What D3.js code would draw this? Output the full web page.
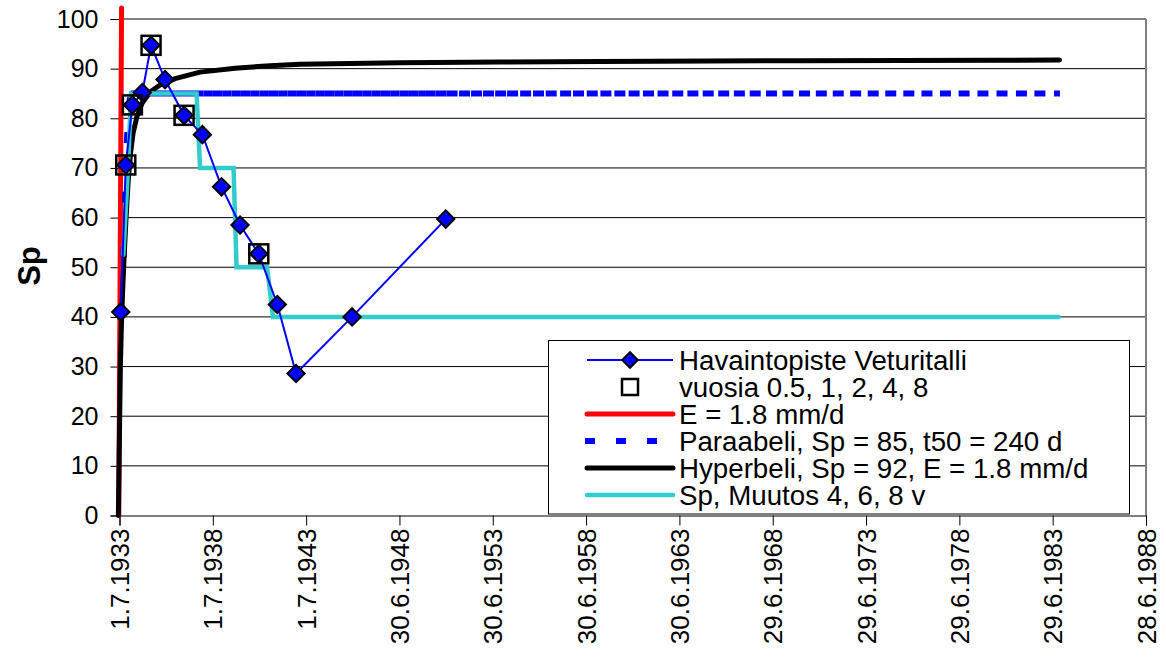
<!DOCTYPE html>
<html><head><meta charset="utf-8">
<script src="https://cdn.jsdelivr.net/npm/d3@7"></script>
<style>
body{margin:0;background:#fff}
text{font-family:Arial,"Liberation Sans",sans-serif;fill:#000}
</style>
</head><body>
<svg id="c" width="1166" height="659"></svg>
<script>
// ---------- data ----------
const xTickLabels = ["1.7.1933","1.7.1938","1.7.1943","30.6.1948","30.6.1953","30.6.1958","30.6.1963","29.6.1968","29.6.1973","29.6.1978","29.6.1983","28.6.1988"];
const yTicks = [0,10,20,30,40,50,60,70,80,90,100];

// Havaintopiste Veturitalli (decimal years, Sp)
const obsYears  = [1933.564,1933.832,1934.186,1934.721,1935.187,1935.937,1936.955,1937.936,1938.964,1939.955,1940.957,1941.953,1942.955,1945.955,1950.975];
const obsValues = [41.0,70.6,82.7,85.2,94.7,87.8,80.6,76.7,66.2,58.5,52.7,42.5,28.6,40.0,59.7];

// vuosia 0.5, 1, 2, 4, 8
const sqYears  = [1933.832,1934.186,1935.187,1936.955,1940.957];
const sqValues = [70.6,82.7,94.7,80.6,52.7];

// E = 1.8 mm/d
const redYears  = [1933.457,1933.607];
const redValues = [0,102.2];

// Paraabeli, Sp = 85, t50 = 240 d
const paraYears = [1933.714,1933.795,1933.886,1933.982,1934.089,
  1934.5,1935.0,1935.5,1936.0,1936.5,1937.0,1937.5,1938.0,1938.5,1939.0,1939.5,1940.0,1940.5,1941.0,1941.5,
  1942.0,1942.5,1943.0,1943.5,1944.0,1944.5,1945.0,1945.5,1946.0,1946.5,1947.0,1947.5,1948.0,1948.5,1949.0,1949.5,
  1949.866,1950.43,1951.02,1951.687,1952.33,1952.97,1953.62,1954.26,1954.96,1955.65,
  1956.33,1957.10,1957.79,1958.53,1959.26,1960.01,1960.77,1961.54,1962.32,1963.11,
  1963.92,1964.74,1965.57,1966.41,1967.26,1968.13,1969.01,1969.90,1970.80,1971.71,
  1972.64,1973.58,1974.52,1975.49,1976.46,1977.45,1978.45,1979.46,1980.48,1981.52,
  1982.51,1983.56,1983.88];
const paraValues = [52,63,75,82,85,
  85,85,85,85,85,85,85,85,85,85,85,85,85,85,85,
  85,85,85,85,85,85,85,85,85,85,85,85,85,85,85,85,
  85,85,85,85,85,85,85,85,85,85,
  85,85,85,85,85,85,85,85,85,85,
  85,85,85,85,85,85,85,85,85,85,
  85,85,85,85,85,85,85,85,85,85,
  85,85,85];

// Hyperbeli, Sp = 92, E = 1.8 mm/d
const hypYears  = [1933.436,1933.489,1933.543,1933.596,1933.661,1933.741,1933.848,1933.955,1934.089,1934.223,1934.438,1934.705,1935.134,1935.670,1936.473,1937.812,1939.687,1941.562,1943.169,1948.526,1953.883,1959.240,1969.955,1980.669,1983.856];
const hypValues = [0,15,30,38,45,52,60,67,73,77,80.5,83,85.3,86.7,88,89.3,90.1,90.6,90.9,91.2,91.35,91.45,91.6,91.7,91.75];

// Sp, Muutos 4, 6, 8 v
const cyanYears  = [1933.704,1933.955,1934.116,1937.625,1937.812,1939.607,1939.768,1941.402,1941.723,1983.803];
const cyanValues = [52.5,70,85,85,70,70,50,50,40,40];

const legendLabels = ["Havaintopiste Veturitalli","vuosia 0.5, 1, 2, 4, 8","E = 1.8 mm/d","Paraabeli, Sp = 85, t50 = 240 d","Hyperbeli, Sp = 92, E = 1.8 mm/d","Sp, Muutos 4, 6, 8 v"];

// ---------- helpers ----------
function parseLabel(s){const p=s.split(".").map(Number);return new Date(Date.UTC(p[2],p[1]-1,p[0]));}
function yearToDate(y){const yr=Math.floor(y);const a=Date.UTC(yr,0,1),b=Date.UTC(yr+1,0,1);return new Date(a+(y-yr)*(b-a));}
const tickDates = xTickLabels.map(parseLabel);

const L=119.5, R=1146, T=19, B=515.5;
const x = d3.scaleUtc().domain([tickDates[0],tickDates[tickDates.length-1]]).range([L,R]);
const y = d3.scaleLinear().domain([0,100]).range([B,T]);

const svg = d3.select("#c");
const zip=(xs,vs)=>xs.map((v,i)=>[yearToDate(v),vs[i]]);

// gridlines
svg.append("g").selectAll("line").data(yTicks.filter(d=>d>0)).join("line")
  .attr("x1",L).attr("x2",R).attr("y1",d=>y(d)).attr("y2",d=>y(d))
  .attr("stroke","#000").attr("stroke-width",1);
// plot border right/top
svg.append("line").attr("x1",R).attr("x2",R).attr("y1",T).attr("y2",B).attr("stroke","#808080").attr("stroke-width",2);
svg.append("line").attr("x1",L).attr("x2",R).attr("y1",T).attr("y2",T).attr("stroke","#808080").attr("stroke-width",1.5);

// axes
const yAxis = d3.axisLeft(y).tickValues(yTicks).tickSize(9).tickPadding(12).tickFormat(d3.format("d"));
const gy = svg.append("g").attr("transform",`translate(${L},0)`).call(yAxis);
gy.select(".domain").attr("stroke","#000");
gy.selectAll(".tick line").attr("stroke","#000");
gy.selectAll("text").style("font-size","25px").attr("font-family","Arial, Liberation Sans, sans-serif");

const xAxis = d3.axisBottom(x).tickValues(tickDates).tickSize(10).tickFormat((d,i)=>xTickLabels[i]);
const gx = svg.append("g").attr("transform",`translate(0,${B})`).call(xAxis);
gx.select(".domain").attr("stroke","#000");
gx.selectAll(".tick line").attr("stroke","#000");
gx.selectAll("text").style("font-size","26px").attr("font-family","Arial, Liberation Sans, sans-serif")
  .attr("text-anchor","end").attr("transform","rotate(-90)").attr("x",-13).attr("y",0).attr("dy","0.35em");

// y title
svg.append("text").attr("transform","translate(29,266) rotate(-90)").attr("text-anchor","middle").attr("dy","0.35em")
  .style("font-size","31px").style("font-weight","bold").text("Sp");

const line = d3.line().x(d=>x(d[0])).y(d=>y(d[1]));

// red
svg.append("path").attr("d",line(zip(redYears,redValues))).attr("fill","none").attr("stroke","#FF0000").attr("stroke-width",5).attr("stroke-linecap","round");
// parabola: dash restarts on each segment
const para = zip(paraYears,paraValues);
svg.append("g").selectAll("line").data(d3.pairs(para)).join("line")
  .attr("x1",d=>x(d[0][0])).attr("y1",d=>y(d[0][1])).attr("x2",d=>x(d[1][0])).attr("y2",d=>y(d[1][1]))
  .attr("stroke","#0000FF").attr("stroke-width",6).attr("stroke-dasharray","11,1000");
// hyperbola
svg.append("path").attr("d",line(zip(hypYears,hypValues))).attr("fill","none").attr("stroke","#000").attr("stroke-width",5).attr("stroke-linecap","round").attr("stroke-linejoin","round");
// cyan
svg.append("path").attr("d",line(zip(cyanYears,cyanValues))).attr("fill","none").attr("stroke","#33CCCC").attr("stroke-width",4.5).attr("stroke-linecap","round");
// observations
const obs = zip(obsYears,obsValues);
svg.append("path").attr("d",line(obs)).attr("fill","none").attr("stroke","#0000FF").attr("stroke-width",2);
const diamond = d3.symbol(d3.symbolSquare,150)();
svg.append("g").selectAll("path").data(obs).join("path").attr("d",diamond)
  .attr("transform",d=>`translate(${x(d[0])},${y(d[1])}) rotate(45)`)
  .attr("fill","#0000FF").attr("stroke","#000").attr("stroke-width",2);
// squares
svg.append("g").selectAll("rect").data(zip(sqYears,sqValues)).join("rect")
  .attr("x",d=>x(d[0])-9.5).attr("y",d=>y(d[1])-9.5).attr("width",19).attr("height",19)
  .attr("fill","none").attr("stroke","#000").attr("stroke-width",2.5);

// legend
const lg = svg.append("g");
lg.append("rect").attr("x",548.5).attr("y",340.5).attr("width",581).attr("height",173.5).attr("fill","#fff").attr("stroke","#000").attr("stroke-width",1);
const lx1=587, lx2=673, lmx=630, ly0=360, ldy=27;
const rowY=i=>ly0+i*ldy;
lg.append("line").attr("x1",lx1).attr("x2",lx2).attr("y1",rowY(0)).attr("y2",rowY(0)).attr("stroke","#0000FF").attr("stroke-width",2);
lg.append("path").attr("d",d3.symbol(d3.symbolSquare,121)()).attr("transform",`translate(${lmx},${rowY(0)}) rotate(45)`).attr("fill","#0000FF").attr("stroke","#000").attr("stroke-width",2);
lg.append("rect").attr("x",lmx-8).attr("y",rowY(1)-8).attr("width",16).attr("height",16).attr("fill","none").attr("stroke","#000").attr("stroke-width",2.5);
lg.append("line").attr("x1",lx1).attr("x2",lx2).attr("y1",rowY(2)).attr("y2",rowY(2)).attr("stroke","#FF0000").attr("stroke-width",5).attr("stroke-linecap","round");
lg.append("line").attr("x1",lx1-2).attr("x2",lx2).attr("y1",rowY(3)).attr("y2",rowY(3)).attr("stroke","#0000FF").attr("stroke-width",6).attr("stroke-dasharray","10,21");
lg.append("line").attr("x1",lx1).attr("x2",lx2).attr("y1",rowY(4)).attr("y2",rowY(4)).attr("stroke","#000").attr("stroke-width",5).attr("stroke-linecap","round");
lg.append("line").attr("x1",lx1).attr("x2",lx2).attr("y1",rowY(5)).attr("y2",rowY(5)).attr("stroke","#33CCCC").attr("stroke-width",4.5).attr("stroke-linecap","round");
lg.selectAll("text.lt").data(legendLabels).join("text").attr("class","lt")
  .attr("x",679).attr("y",(d,i)=>rowY(i)).attr("dy","0.35em").style("font-size","27.7px").text(d=>d);
</script>
</body></html>
